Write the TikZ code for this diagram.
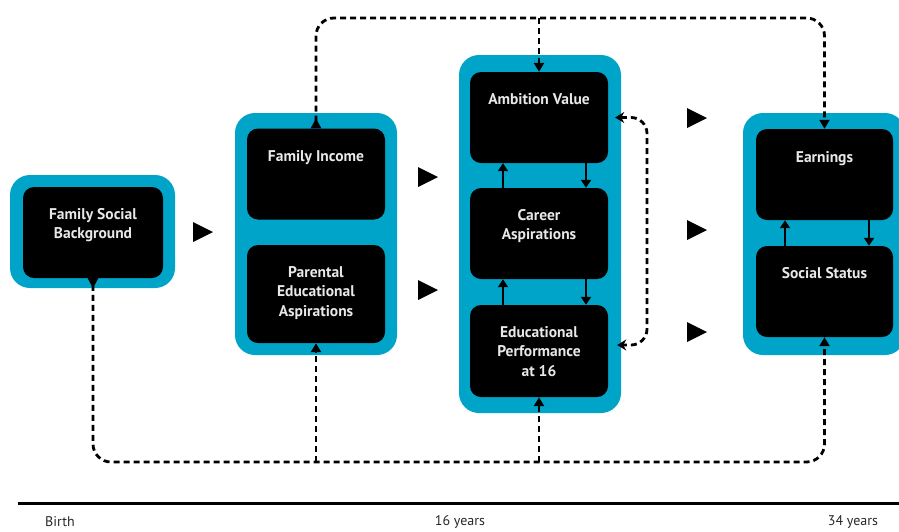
\documentclass[tikz,border=0pt]{standalone}
\usepackage{fontspec}
\setmainfont{PT Sans}
\usetikzlibrary{arrows.meta}
\definecolor{cblue}{RGB}{0,164,200}
\definecolor{ctext}{RGB}{232,232,232}
\definecolor{cgray}{RGB}{40,40,40}
\begin{document}
\begin{tikzpicture}[x=1pt,y=-1pt,
  outer/.style={fill=cblue, rounded corners=20pt},
  blk/.style={fill=black, rounded corners=11pt, inner sep=0pt, minimum width=138pt, minimum height=91pt},
  lbl/.style={text=ctext, font=\bfseries\fontsize{15.5}{19.5}\selectfont, align=center, inner sep=0pt, anchor=north},
  dline/.style={line width=2.8pt, dash pattern=on 6pt off 4pt},
  tip/.style={-{Triangle[width=10pt,length=9pt]}},
  link/.style={line width=2.2pt, -{Triangle[width=10pt,length=8pt]}},
  big/.style={fill=black},
  tl/.style={text=cgray, font=\fontsize{14}{16}\selectfont, inner sep=0pt}
]
\useasboundingbox (0,0) rectangle (899,531);

% group backgrounds
\fill[outer] (10,175) rectangle (175,288);
\fill[outer] (235,113) rectangle (397,355);
\fill[outer] (459,55) rectangle (621,413);
\fill[outer] (743,113) rectangle (905,355);

% boxes
\node[blk, minimum width=140pt] (fsb) at (93,232.5) {};
\node[blk] (fi) at (316,174) {};
\node[blk, minimum height=98pt] (pea) at (316,294) {};
\node[blk] (av) at (539,117.5) {};
\node[blk] (ca) at (539,233.5) {};
\node[blk, minimum height=92pt] (ep) at (539,351) {};
\node[blk, minimum width=137pt] (earn) at (824.5,174.5) {};
\node[blk, minimum width=137pt] (ss) at (824.5,291.5) {};

% labels
\node[lbl] (fsbt) at ([yshift=-21pt]fsb.north) {Family Social\\Background};
\node[lbl] (fit) at ([yshift=-22pt]fi.north) {Family Income};
\node[lbl] (peat) at ([yshift=-21pt]pea.north) {Parental\\Educational\\Aspirations};
\node[lbl] (avt) at ([yshift=-21pt]av.north) {Ambition Value};
\node[lbl] (cat) at ([yshift=-21pt]ca.north) {Career\\Aspirations};
\node[lbl] (ept) at ([yshift=-21pt]ep.north) {Educational\\Performance\\at 16};
\node[lbl] (earnt) at ([yshift=-22pt]earn.north) {Earnings};
\node[lbl] (sst) at ([yshift=-21pt]ss.north) {Social Status};

% inner links
\draw[link] ([xshift=-36pt]ca.north) -- ([xshift=-36pt]av.south);
\draw[link] ([xshift=47pt]av.south) -- ([xshift=47pt]ca.north);
\draw[link] ([xshift=-36pt]ep.north) -- ([xshift=-36pt]ca.south);
\draw[link] ([xshift=47pt]ca.south) -- ([xshift=47pt]ep.north);
\draw[link] ([xshift=-39.5pt]ss.north) -- ([xshift=-39.5pt]earn.south);
\draw[link] ([xshift=44.5pt]earn.south) -- ([xshift=44.5pt]ss.north);

% big triangles
\foreach \x/\y in {203/232, 428/177, 428/290, 697/118, 697/230, 697/332}
  \fill[big] (\x-10,\y-10) -- (\x+10,\y) -- (\x-10,\y+10) -- cycle;

% dashed connectors
\coordinate (topline) at (0,18);
\coordinate (botline) at (0,462);
\coordinate (sideline) at (647,0);
\coordinate (avin) at ([xshift=7pt]av.east);
\coordinate (epin) at ([xshift=9pt,yshift=6pt]ep.east);
\draw[dline, rounded corners=18pt, {Triangle[reversed,width=10pt,length=10pt]}-{Triangle[width=10pt,length=9pt]}]
  (fi.north) -- (fi.north |- topline) -- (earn.north |- topline) -- (earn.north);
\draw[dline, tip] (av.north |- topline) -- (av.north);
\draw[dline, rounded corners=18pt, {Triangle[reversed,width=10pt,length=10pt]}-{Triangle[width=10pt,length=9pt]}]
  (fsb.south) -- (fsb.south |- botline) -- (ss.south |- botline) -- (ss.south);
\draw[dline, tip] (pea.south |- botline) -- (pea.south);
\draw[dline, tip] (ep.south |- botline) -- (ep.south);
\draw[dline, rounded corners=16pt, {Stealth[width=11pt,length=9pt]}-{Stealth[width=11pt,length=9pt]}]
  (avin) -- (sideline |- avin) -- (sideline |- epin) -- (epin);

% timeline
\coordinate (tlstart) at (18,503);
\coordinate (tlend) at (899,503);
\draw[line width=3pt, black] (tlstart) -- (tlend);
\node[tl, anchor=west] (birth) at (45,522) {Birth};
\node[tl] (y16) at (460,522) {16 years};
\node[tl] (y34) at (853,522) {34 years};
\end{tikzpicture}
\end{document}
